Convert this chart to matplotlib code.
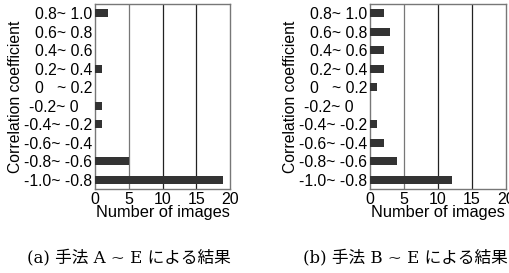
import matplotlib
matplotlib.use("Agg")
from matplotlib import pyplot as plt

# bins from top to bottom
bins = ["0.8~ 1.0", "0.6~ 0.8", "0.4~ 0.6", "0.2~ 0.4", "0   ~ 0.2",
        "-0.2~ 0   ", "-0.4~ -0.2", "-0.6~ -0.4", "-0.8~ -0.6", "-1.0~ -0.8"]
counts_a = [2, 0, 0, 1, 0, 1, 1, 0, 5, 19]
counts_b = [2, 3, 2, 2, 1, 0, 1, 2, 4, 12]
captions = ["(a) 手法 A ~ E による結果", "(b) 手法 B ~ E による結果"]
xticks = [0, 5, 10, 15, 20]

plt.rcParams["font.family"] = ["Liberation Sans", "DejaVu Sans"]

fig = plt.figure(figsize=(5.10, 2.73), dpi=100)
W, H = 510, 273
boxes = [(95, 4, 230, 189), (370, 4, 506, 189)]
cap_x = [129, 405]

for (x0, y0, x1, y1), counts, cap, cx in zip(boxes, [counts_a, counts_b], captions, cap_x):
    ax = fig.add_axes([x0 / W, 1 - y1 / H, (x1 - x0) / W, (y1 - y0) / H])
    ypos = list(range(len(bins)))[::-1]
    ax.barh(ypos, counts, height=0.45, color="#333333", zorder=3)
    ax.set_xlim(0, 20)
    ax.set_ylim(-0.5, len(bins) - 0.5)
    ax.set_yticks(ypos)
    ax.set_yticklabels(bins, fontsize=11.3)
    ax.set_xticks(xticks)
    ax.set_xticklabels([str(t) for t in xticks], fontsize=11.5)
    ax.tick_params(length=0, pad=2)
    for g in xticks[1:-1]:
        ax.axvline(g, color="#222222" if g > 5 else "#777777", lw=0.9, zorder=1)
    for s in ax.spines.values():
        s.set_color("#777777")
        s.set_linewidth(1.0)
    ax.set_xlabel("Number of images", fontsize=11.8, labelpad=-1)
    ax.set_ylabel("Correlation coefficient", fontsize=11.3, labelpad=1)
    fig.text(cx / W, 1 - 258 / H, cap, ha="center", va="center", fontsize=12,
             family=["DejaVu Serif", "Noto Sans CJK JP"])

fig.savefig("out.png", dpi=100)
